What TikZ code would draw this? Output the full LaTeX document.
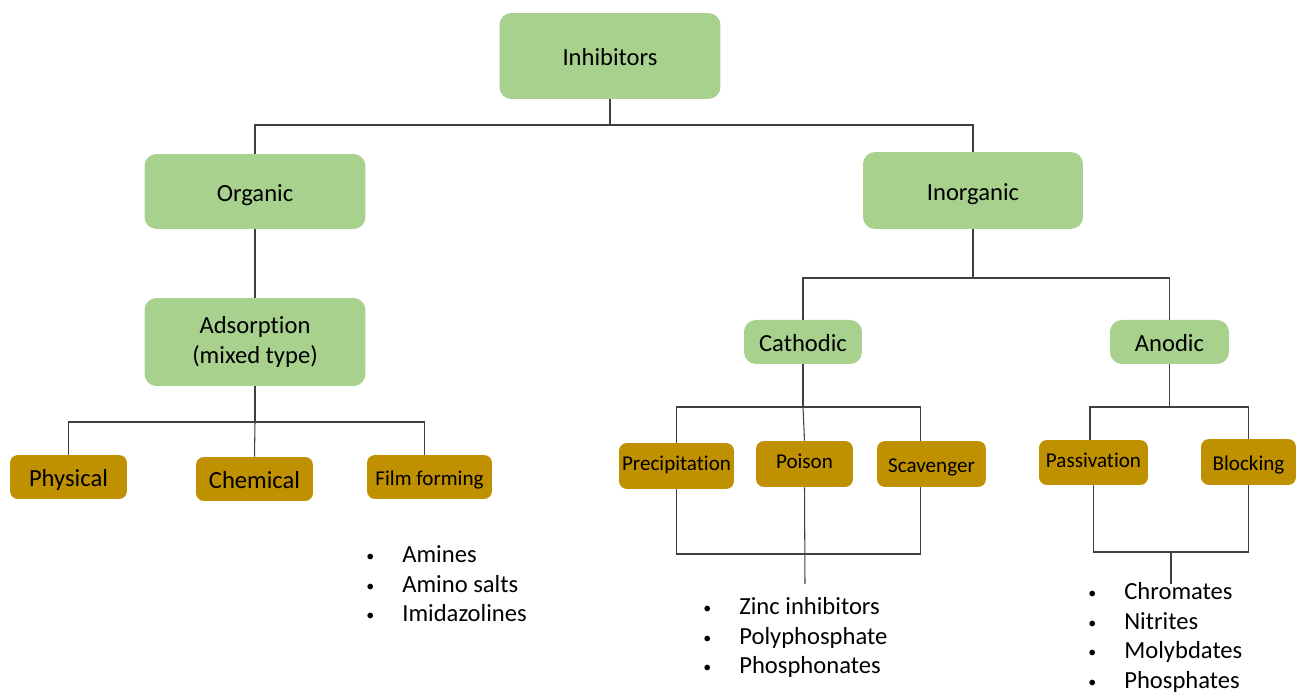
\documentclass[tikz,border=0pt]{standalone}
\usepackage{fontspec}
\usepackage{graphicx}
\setmainfont{Carlito}[Ligatures=NoCommon]
\definecolor{leafgreen}{HTML}{A9D18E}
\definecolor{leafgold}{HTML}{BF9000}
\definecolor{linegrey}{HTML}{404040}
\tikzset{
  greenbox/.style={fill=leafgreen, rounded corners=0.24cm, inner sep=0pt, align=center,
    font=\fontsize{14}{16.8}\selectfont},
  goldbox/.style={fill=leafgold, rounded corners=0.16cm, inner sep=0pt, align=center,
    font=\fontsize{14}{16.8}\selectfont},
  smallgold/.style={goldbox, font=\fontsize{12}{14.4}\selectfont},
  lowtext/.style={text height=11.2pt, text depth=0pt},
  smalllow/.style={text height=9.6pt, text depth=0pt},
  hightext/.style={text height=8.4pt, text depth=3pt},
  link/.style={draw=linegrey, line width=0.6pt},
  listitem/.style={anchor=base west, inner sep=0pt, font=\fontsize{14}{16.8}\selectfont},
}
\newcommand{\bulletitem}[1]{\makebox[0.24cm]{\raisebox{0.06em}{\scalebox{0.65}{\textbullet}}}\hspace{0.52cm}#1}
\begin{document}
\begin{tikzpicture}[x=0.02cm, y=-0.02cm]
  \useasboundingbox (0,0) rectangle (1296,695);
  % top levels
  \node[greenbox, lowtext, minimum width=4.42cm, minimum height=1.72cm] (inh) at (610,56) {Inhibitors};
  \node[greenbox, lowtext, minimum width=4.42cm, minimum height=1.5cm] (org) at (255,191.5) {Organic};
  \node[greenbox, lowtext, minimum width=4.4cm, minimum height=1.54cm] (inr) at (973,190.5) {Inorganic};
  \node[greenbox, minimum width=4.42cm, minimum height=1.76cm] (ads) at (255,342) {Adsorption\\(mixed type)};
  \node[greenbox, lowtext, minimum width=2.36cm, minimum height=0.88cm] (cat) at (803,342) {Cathodic};
  \node[greenbox, lowtext, minimum width=2.38cm, minimum height=0.88cm] (ano) at (1169.5,342) {Anodic};
  % leaves
  \node[goldbox, lowtext, minimum width=2.34cm, minimum height=0.88cm] (phy) at (68.5,477) {Physical};
  \node[goldbox, lowtext, minimum width=2.34cm, minimum height=0.88cm] (che) at (254.5,479) {Chemical};
  \node[smallgold, smalllow, minimum width=2.5cm, minimum height=0.88cm] (fil) at (429.5,477) {Film forming};
  \node[smallgold, hightext, minimum width=2.3cm, minimum height=0.92cm] (pre) at (676.5,466) {Precipitation};
  \node[smallgold, hightext, minimum width=1.94cm, minimum height=0.92cm] (poi) at (804.5,464) {Poison};
  \node[smallgold, smalllow, minimum width=2.18cm, minimum height=0.92cm] (sca) at (931.5,464) {Scavenger};
  \node[smallgold, hightext, minimum width=2.18cm, minimum height=0.9cm] (pas) at (1093.5,462.5) {Passivation};
  \node[smallgold, smalllow, minimum width=1.9cm, minimum height=0.92cm] (blo) at (1248.5,462) {Blocking};
  % junctions
  \coordinate (j1) at (610,125);
  \coordinate (j2) at (973,278);
  \coordinate (j3) at (803,407);
  \coordinate (j4) at (805,554);
  \coordinate (k4) at (805,584);
  \coordinate (j5) at (1169.5,407);
  \coordinate (j6) at (1171,552);
  \coordinate (k6) at (1171,584);
  \coordinate (j7) at (255,422);
  % connectors
  \draw[link] (inh.south) -- (j1);
  \draw[link] (org.north) |- (j1) -| (inr.north);
  \draw[link] (org.south) -- (ads.north);
  \draw[link] (ads.south) -- (j7);
  \draw[link] (phy.north) |- (j7) -| ([xshift=-0.1cm]fil.north);
  \draw[link] (j7) -- (che.north);
  \draw[link] (inr.south) -- (j2);
  \draw[link] (cat.north) |- (j2) -| (ano.north);
  \draw[link] (cat.south) -- (j3);
  \draw[link] (pre.north) |- (j3) -| ([xshift=-0.22cm]sca.north);
  \draw[link] (j3) -- (poi.north);
  \draw[link] (pre.south) |- (j4) -| ([xshift=-0.22cm]sca.south);
  \draw[link] (poi.south) -- (k4);
  \draw[link] (ano.south) -- (j5);
  \draw[link] ([xshift=-0.07cm]pas.north) |- (j5) -| (blo.north);
  \draw[link] (pas.south) |- (j6) -| (blo.south);
  \draw[link] (j6) -- (k6);
  % lists
  \foreach \txt [count=\i] in {Amines, Amino salts, Imidazolines}
    \node[listitem] (film\i) at (364,{563+29.5*(\i-1)}) {\bulletitem{\txt}};
  \foreach \txt [count=\i] in {Zinc inhibitors, Polyphosphate, Phosphonates}
    \node[listitem] (cath\i) at (701,{615+29.5*(\i-1)}) {\bulletitem{\txt}};
  \foreach \txt [count=\i] in {Chromates, Nitrites, Molybdates, Phosphates}
    \node[listitem] (anod\i) at (1086,{600+29.5*(\i-1)}) {\bulletitem{\txt}};
\end{tikzpicture}
\end{document}
